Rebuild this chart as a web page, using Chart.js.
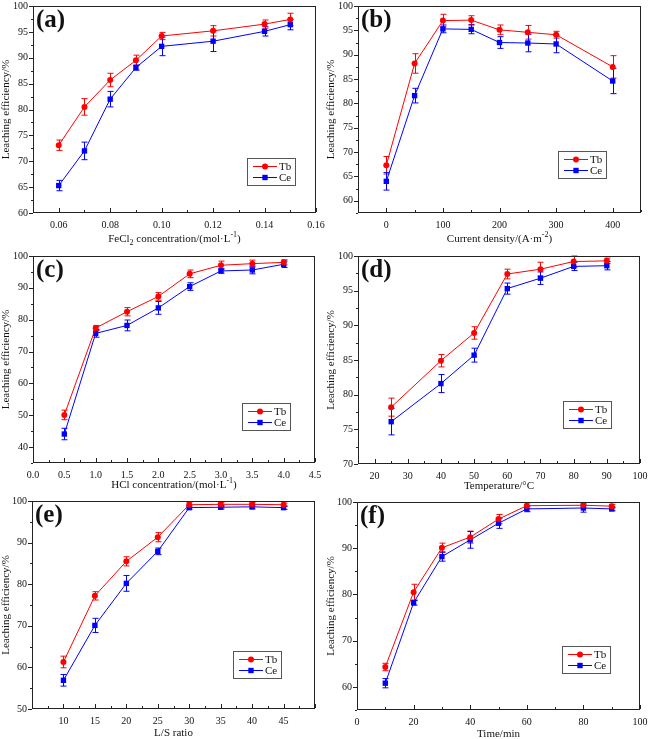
<!DOCTYPE html>
<html>
<head>
<meta charset="utf-8">
<script src="https://cdn.jsdelivr.net/npm/chart.js@4.4.1/dist/chart.umd.min.js"></script>
<style>
  body { margin: 0; background: #fff; }
  #wrap { position: relative; width: 649px; height: 739px; overflow: hidden; }
  .cell { position: absolute; }
</style>
</head>
<body>
<div id="wrap">
  <div class="cell" style="left:0;top:0"><canvas id="chartA" width="325" height="245"></canvas></div>
  <div class="cell" style="left:325px;top:0"><canvas id="chartB" width="324" height="245"></canvas></div>
  <div class="cell" style="left:0;top:245px"><canvas id="chartC" width="325" height="249"></canvas></div>
  <div class="cell" style="left:325px;top:245px"><canvas id="chartD" width="324" height="249"></canvas></div>
  <div class="cell" style="left:0;top:490px"><canvas id="chartE" width="325" height="249"></canvas></div>
  <div class="cell" style="left:325px;top:490px"><canvas id="chartF" width="324" height="249"></canvas></div>
</div>
<script>
// (a) FeCl2 concentration
const feclConc = [0.06, 0.07, 0.08, 0.09, 0.10, 0.12, 0.14, 0.15];
const feclTb = [73.1, 80.5, 85.7, 89.5, 94.2, 95.2, 96.5, 97.4];
const feclTbErr = [1.0, 1.6, 1.3, 1.0, 0.7, 1.0, 0.8, 1.2];
const feclCe = [65.3, 72.0, 82.0, 88.1, 92.2, 93.2, 95.1, 96.4];
const feclCeErr = [1.0, 1.7, 1.5, 0.5, 1.8, 2.0, 0.9, 1.0];

// (b) current density
const currDensity = [0, 50, 100, 150, 200, 250, 300, 400];
const currTb = [67.3, 88.2, 97.0, 97.1, 95.1, 94.6, 94.1, 87.5];
const currTbErr = [1.8, 2.0, 1.3, 0.9, 1.0, 1.4, 0.7, 2.3];
const currCe = [64.0, 81.6, 95.3, 95.2, 92.5, 92.4, 92.2, 84.6];
const currCeErr = [1.8, 1.5, 0.8, 0.9, 1.2, 1.8, 1.8, 2.6];

// (c) HCl concentration
const hclConc = [0.5, 1.0, 1.5, 2.0, 2.5, 3.0, 3.5, 4.0];
const hclTb = [50.1, 77.4, 82.5, 87.3, 94.4, 97.1, 97.6, 98.0];
const hclTbErr = [1.5, 0.8, 1.3, 1.2, 1.2, 1.3, 1.1, 0.8];
const hclCe = [44.1, 75.7, 78.2, 83.7, 90.4, 95.3, 95.6, 97.4];
const hclCeErr = [1.8, 1.2, 1.7, 2.0, 1.2, 0.7, 1.2, 1.0];

// (d) temperature
const temps = [25, 40, 50, 60, 70, 80, 90];
const tempTb = [78.2, 84.9, 88.9, 97.4, 98.1, 99.2, 99.3];
const tempTbErr = [1.3, 0.9, 0.9, 0.7, 1.0, 0.8, 0.4];
const tempCe = [76.1, 81.6, 85.7, 95.3, 96.8, 98.5, 98.6];
const tempCeErr = [1.9, 1.3, 1.0, 0.8, 0.9, 0.6, 0.6];

// (e) L/S ratio
const lsRatio = [10, 15, 20, 25, 30, 35, 40, 45];
const lsTb = [61.3, 77.2, 85.5, 91.3, 99.1, 99.2, 99.2, 99.1];
const lsTbErr = [1.4, 1.0, 1.1, 1.1, 0.6, 0.5, 0.4, 0.4];
const lsCe = [56.9, 70.1, 80.2, 87.9, 98.4, 98.5, 98.6, 98.4];
const lsCeErr = [1.4, 1.7, 1.9, 0.8, 0.4, 0.4, 0.5, 0.4];

// (f) time
const times = [10, 20, 30, 40, 50, 60, 80, 90];
const timeTb = [64.3, 80.5, 90.1, 92.4, 96.3, 99.2, 99.3, 99.1];
const timeTbErr = [0.8, 1.7, 1.0, 1.3, 1.0, 0.6, 0.6, 0.4];
const timeCe = [60.8, 78.2, 88.2, 91.8, 95.4, 98.5, 98.7, 98.5];
const timeCeErr = [1.0, 0.5, 1.0, 1.8, 1.1, 0.6, 0.9, 0.4];

const seriesNames = ["Tb", "Ce"];
const yTitle = "Leaching efficiency/%";

const FONT = '"Liberation Serif", "Times New Roman", serif';
const RED = "#ff0000";
const BLUE = "#0000ff";
const INK = "#111";

function isMult(v, step) {
  const r = v / step;
  return Math.abs(r - Math.round(r)) < 1e-6;
}

const panels = [
  {
    id: "chartA", ca: [33, 6, 316, 213], letter: "(a)", legend: [247, 158], titleGap: 29,
    x: { min: 0.05, max: 0.16, major: 0.02, minor: 0.01, dec: 2 },
    y: { min: 60, max: 100, major: 5, minor: 2.5 },
    xs: feclConc, tb: feclTb, tbErr: feclTbErr, ce: feclCe, ceErr: feclCeErr,
    xTitle: [["FeCl"], ["2", "sub"], [" concentration/(mol·L"], ["-1", "sup"], [")"]],
  },
  {
    id: "chartB", ca: [33, 6, 316, 213], letter: "(b)", legend: [233, 151], titleGap: 29,
    x: { min: -50, max: 450, major: 100, minor: 50, dec: 0 },
    y: { min: 57.5, max: 100, major: 5, minor: 2.5 },
    xs: currDensity, tb: currTb, tbErr: currTbErr, ce: currCe, ceErr: currCeErr,
    xTitle: [["Current density/(A·m"], ["-2", "sup"], [")"]],
  },
  {
    id: "chartC", ca: [33, 11, 315, 218], letter: "(c)", legend: [242, 158], titleGap: 25,
    x: { min: 0, max: 4.5, major: 0.5, minor: 0.25, dec: 1 },
    y: { min: 35, max: 100, major: 10, minor: 5 },
    xs: hclConc, tb: hclTb, tbErr: hclTbErr, ce: hclCe, ceErr: hclCeErr,
    xTitle: [["HCl concentration/(mol·L"], ["-1", "sup"], [")"]],
  },
  {
    id: "chartD", ca: [33, 11, 315, 219], letter: "(d)", legend: [238, 156], titleGap: 25,
    x: { min: 15, max: 100, major: 10, minor: 5, dec: 0 },
    y: { min: 70, max: 100, major: 5, minor: 2.5 },
    xs: temps, tb: tempTb, tbErr: tempTbErr, ce: tempCe, ceErr: tempCeErr,
    xTitle: [["Temperature/°C"]],
  },
  {
    id: "chartE", ca: [32, 11, 315, 219], letter: "(e)", legend: [233, 161], titleGap: 27,
    x: { min: 5, max: 50, major: 5, minor: 2.5, dec: 0, lo: 10, hi: 45 },
    y: { min: 50, max: 100, major: 10, minor: 5 },
    xs: lsRatio, tb: lsTb, tbErr: lsTbErr, ce: lsCe, ceErr: lsCeErr,
    xTitle: [["L/S ratio"]],
  },
  {
    id: "chartF", ca: [32, 12, 315, 220], letter: "(f)", legend: [237, 156], titleGap: 27,
    x: { min: 0, max: 100, major: 20, minor: 10, dec: 0 },
    y: { min: 55, max: 100, major: 10, minor: 5 },
    xs: times, tb: timeTb, tbErr: timeTbErr, ce: timeCe, ceErr: timeCeErr,
    xTitle: [["Time/min"]],
  },
];

// error bars, frame, inward/outward ticks, titles, legend box, panel letter
const panelDecor = {
  id: "panelDecor",
  beforeDatasetsDraw(chart, args, opts) {
    const ctx = chart.ctx;
    const ys = chart.scales.y;
    ctx.save();
    ctx.lineWidth = 1;
    chart.data.datasets.forEach((ds, i) => {
      const errs = opts.errors[i];
      const meta = chart.getDatasetMeta(i);
      ctx.strokeStyle = ds.borderColor;
      meta.data.forEach((pt, j) => {
        const v = ds.data[j].y;
        const x = Math.round(pt.x) + 0.5;
        const top = ys.getPixelForValue(v + errs[j]);
        const bot = ys.getPixelForValue(v - errs[j]);
        ctx.beginPath();
        ctx.moveTo(x, top); ctx.lineTo(x, bot);
        ctx.moveTo(x - 3, top); ctx.lineTo(x + 3, top);
        ctx.moveTo(x - 3, bot); ctx.lineTo(x + 3, bot);
        ctx.stroke();
      });
    });
    ctx.restore();
  },
  afterDraw(chart, args, opts) {
    const ctx = chart.ctx;
    const { left, top, right, bottom } = chart.chartArea;
    const xs = chart.scales.x, ys = chart.scales.y;
    ctx.save();
    ctx.strokeStyle = "#222";
    ctx.lineWidth = 1;
    ctx.strokeRect(left + 0.5, top + 0.5, right - left - 1, bottom - top - 1);

    ctx.beginPath();
    xs.ticks.forEach((t) => {
      const px = Math.round(xs.getPixelForValue(t.value)) + 0.5;
      const len = isMult(t.value, opts.xMajor) ? 4 : 2;
      ctx.moveTo(px, bottom - 1); ctx.lineTo(px, bottom - 1 - len);
    });
    ys.ticks.forEach((t) => {
      const py = Math.round(ys.getPixelForValue(t.value)) + 0.5;
      const len = isMult(t.value, opts.yMajor) ? 4 : 2;
      ctx.moveTo(left, py); ctx.lineTo(left - len, py);
    });
    ctx.stroke();

    // x title with sub/superscripts
    ctx.fillStyle = INK;
    ctx.textBaseline = "alphabetic";
    const big = "11px " + FONT, small = "8px " + FONT;
    let w = 0;
    opts.xTitle.forEach(([s, k]) => { ctx.font = k ? small : big; w += ctx.measureText(s).width; });
    let cx = (left + right) / 2 - w / 2;
    const base = bottom + opts.titleGap;
    opts.xTitle.forEach(([s, k]) => {
      ctx.font = k ? small : big;
      const dy = k === "sub" ? 3 : k === "sup" ? -5 : 0;
      ctx.fillText(s, cx, base + dy);
      cx += ctx.measureText(s).width;
    });

    // y title
    ctx.save();
    ctx.translate(9, (top + bottom) / 2);
    ctx.rotate(-Math.PI / 2);
    ctx.font = big;
    ctx.textAlign = "center";
    ctx.fillText(yTitle, 0, 0);
    ctx.restore();

    // panel letter
    ctx.font = "bold 25px " + FONT;
    ctx.textBaseline = "top";
    ctx.fillText(opts.letter, left + 3, top + 2);

    // legend box
    const [lx, ly] = opts.legend;
    ctx.strokeStyle = "#555";
    ctx.strokeRect(lx + 0.5, ly + 0.5, 48, 27);
    chart.data.datasets.forEach((ds, i) => {
      const ry = ly + 8 + i * 11;
      ctx.strokeStyle = ds.borderColor;
      ctx.fillStyle = ds.borderColor;
      ctx.beginPath();
      ctx.moveTo(lx + 6, ry + 0.5); ctx.lineTo(lx + 30, ry + 0.5);
      ctx.stroke();
      Chart.helpers.drawPoint(ctx, { pointStyle: ds.pointStyle, radius: ds.pointRadius, borderWidth: 0 }, lx + 18, ry + 0.5);
      ctx.fillStyle = INK;
      ctx.font = "11px " + FONT;
      ctx.textBaseline = "middle";
      ctx.fillText(ds.label, lx + 32, ry + 1);
    });
    ctx.restore();
  },
};

function makeChart(p) {
  const canvas = document.getElementById(p.id);
  const W = canvas.width, H = canvas.height;
  const [cl, ct, cr, cb] = p.ca;
  const pts = (vals) => p.xs.map((x, i) => ({ x: x, y: vals[i] }));
  const tickFont = { family: FONT, size: 10 };

  return new Chart(canvas, {
    type: "line",
    data: {
      datasets: [
        {
          label: seriesNames[0], data: pts(p.tb),
          borderColor: RED, backgroundColor: RED, borderWidth: 1,
          pointStyle: "circle", pointRadius: 3, pointBorderWidth: 0, tension: 0,
        },
        {
          label: seriesNames[1], data: pts(p.ce),
          borderColor: BLUE, backgroundColor: BLUE, borderWidth: 1,
          pointStyle: "rect", pointRadius: 3.8, pointBorderWidth: 0, tension: 0,
        },
      ],
    },
    plugins: [panelDecor],
    options: {
      responsive: false,
      animation: false,
      layout: { padding: { left: 0, top: ct, right: W - cr, bottom: 0 } },
      plugins: {
        legend: { display: false },
        tooltip: { enabled: false },
        panelDecor: {
          errors: [p.tbErr, p.ceErr],
          xMajor: p.x.major, yMajor: p.y.major, titleGap: p.titleGap,
          xTitle: p.xTitle, letter: p.letter, legend: p.legend,
        },
      },
      scales: {
        x: {
          type: "linear", min: p.x.min, max: p.x.max,
          grid: { display: false, drawTicks: false },
          border: { display: false },
          ticks: {
            stepSize: p.x.minor, padding: 6, color: INK, font: tickFont, maxRotation: 0, autoSkip: false,
            callback: (v) => {
              if (!isMult(v, p.x.major)) return "";
              if (p.x.lo !== undefined && (v < p.x.lo - 1e-9 || v > p.x.hi + 1e-9)) return "";
              return Number(v).toFixed(p.x.dec);
            },
          },
          afterFit: (s) => { s.height = H - cb; s.paddingLeft = 0; s.paddingRight = 0; },
        },
        y: {
          min: p.y.min, max: p.y.max,
          grid: { display: false, drawTicks: false },
          border: { display: false },
          ticks: {
            stepSize: p.y.minor, padding: 5, color: INK, font: tickFont, autoSkip: false,
            callback: (v) => (isMult(v, p.y.major) ? String(v) : ""),
          },
          afterFit: (s) => { s.width = cl; s.paddingTop = 0; s.paddingBottom = 0; },
        },
      },
    },
  });
}

panels.forEach(makeChart);
</script>
</body>
</html>
